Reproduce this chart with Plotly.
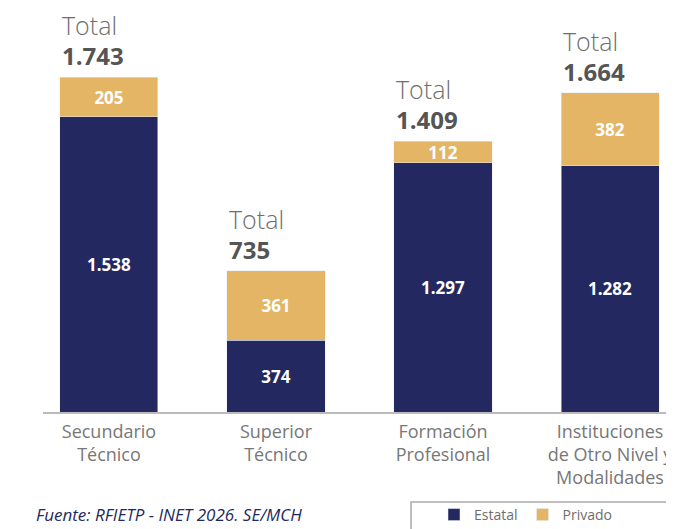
import plotly.graph_objects as go

categories = ["Secundario<br>Técnico", "Superior<br>Técnico", "Formación<br>Profesional",
              "Instituciones<br>de Otro Nivel y<br>Modalidades"]
estatal = [1538, 374, 1297, 1282]
privado = [205, 361, 112, 382]
totals = [e + p for e, p in zip(estatal, privado)]

NAVY = "#232960"
GOLD = "#E3B564"
FONT = "Open Sans"
BAR_W = 0.587

x_idx = list(range(len(categories)))

def fmt(v):
    return f"{v:,}".replace(",", ".")

# plot area in page pixels: x 43..672, y 10..412
OFF_X, OFF_Y = 8, 4
PX0, PX1, PY0, PY1 = 43, 672, 10, 412
def px(xp):
    return (xp - PX0) / (PX1 - PX0)
def py(yp):
    return (PY1 - yp) / (PY1 - PY0)

fig = go.Figure()
for name, vals, col in (("Estatal", estatal, NAVY), ("Privado", privado, GOLD)):
    fig.add_trace(go.Bar(
        x=x_idx, y=vals, name=name, marker_color=col, width=BAR_W,
        texttemplate="%{y:,}", textposition="inside", insidetextanchor="middle",
        textfont=dict(color="white", size=17, family=FONT, weight="bold"),
        constraintext="none", hoverinfo="skip"))

for i, t in enumerate(totals):
    fig.add_annotation(
        x=i - BAR_W / 2, y=t, xref="x", yref="y",
        text=("<span style='font-size:25px;color:#6e6e6e'>Total</span><br>"
              f"<b style='font-size:24px'>{fmt(t)}</b>"),
        xanchor="left", yanchor="middle", yshift=37, align="left", showarrow=False,
        font=dict(family=FONT, size=23, color="#555555", weight=300))

fig.add_annotation(x=px(34), y=py(516), xref="paper", yref="paper",
                   text="<i>Fuente: RFIETP - INET 2026. SE/MCH</i>", showarrow=False,
                   xanchor="left", yanchor="middle",
                   font=dict(family=FONT, size=17, color=NAVY))

fig.add_shape(type="rect", xref="paper", yref="paper",
              x0=px(411), x1=px(673), y0=py(503), y1=py(540),
              line=dict(color="#aaaaaa", width=1.5), fillcolor="rgba(0,0,0,0)")

fig.update_layout(
    width=674 - OFF_X, height=529 - OFF_Y,
    margin=dict(l=PX0 - OFF_X, r=674 - PX1, t=PY0 - OFF_Y, b=529 - PY1),
    barmode="stack",
    separators=",.",
    paper_bgcolor="white", plot_bgcolor="white",
    font=dict(family=FONT, color="#777777"),
    showlegend=True,
    legend=dict(orientation="h", x=px(434), y=py(516),
                xanchor="left", yanchor="middle",
                font=dict(family=FONT, size=14, color="#6e6e6e"),
                traceorder="normal", bgcolor="rgba(0,0,0,0)"),
    xaxis=dict(range=[-0.395, 3.371], tickmode="array", tickvals=x_idx, ticktext=categories,
               showline=True, linecolor="#bbbbbc", linewidth=2, showgrid=False,
               zeroline=False, ticks="", ticklabelstandoff=2, ticklabeloverflow="allow",
               tickfont=dict(family=FONT, size=18, color="#777777"),
               fixedrange=True),
    yaxis=dict(range=[0, 2073], visible=False, fixedrange=True),
)

fig.write_html("out.html")
